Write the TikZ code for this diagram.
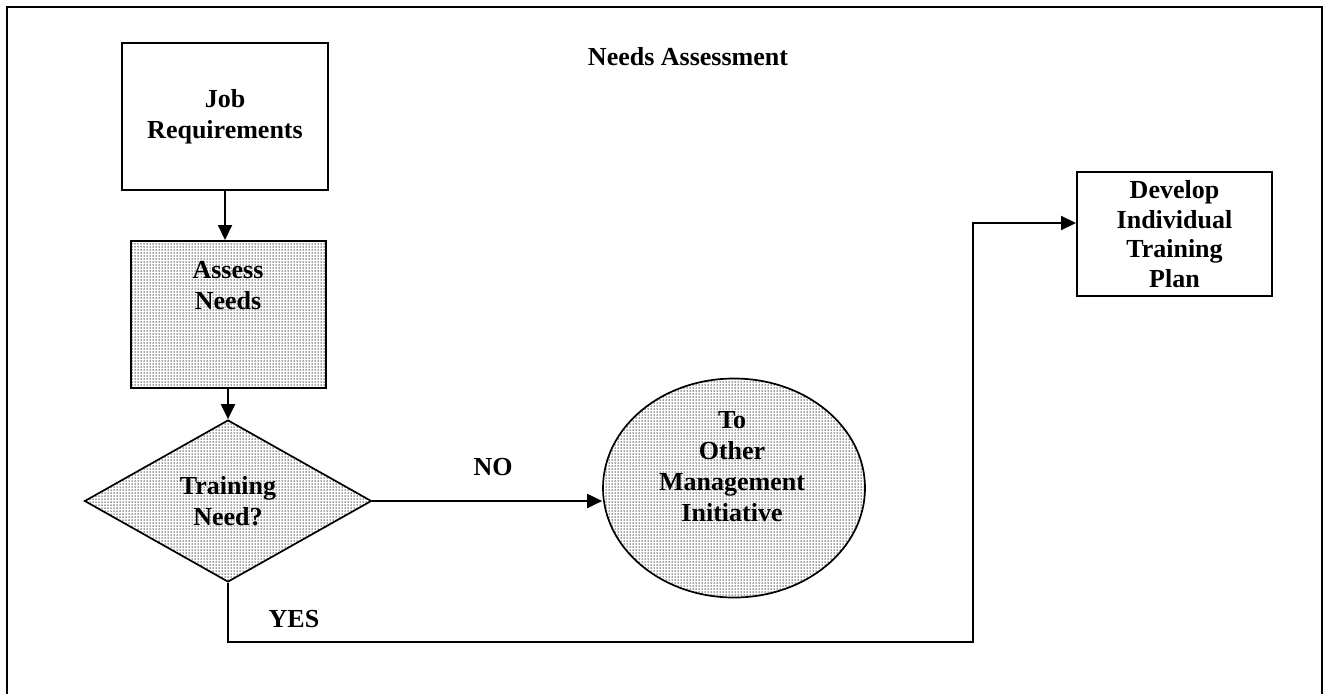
\documentclass[tikz,border=0pt]{standalone}
\usepackage{fontspec}
\setmainfont{Liberation Serif}
\usetikzlibrary{shapes.geometric,arrows.meta,patterns.meta}
\begin{document}
\begin{tikzpicture}[x=1pt,y=-1pt,
  every node/.style={font=\fontsize{26}{31}\selectfont\bfseries, align=center, inner sep=0pt},
  outline/.style={draw, line width=2pt},
  dotfill/.style={pattern={Dots[distance=3pt,radius=0.75pt]}, pattern color=black!75},
  flow/.style={line width=2pt, line join=miter, -{Triangle[length=15pt,width=14pt]}},
  ]
\useasboundingbox (0,0) rectangle (1324,694);
% page frame (open at the bottom)
\draw[line width=2pt] (7,694) -- (7,7) -- (1322,7) -- (1322,694);

% title
\node (title) at (688,57) {Needs Assessment};

% process steps
\node[outline, rectangle, minimum width=206pt, minimum height=147pt] (job) at (225,116.5) {Job\\Requirements};
\node[outline, dotfill, rectangle, minimum width=195pt, minimum height=147pt] (assess) at (228,314.5) {};
\node (assesstxt) at (228,286) {Assess\\Needs};
\node[outline, line width=1.7pt, dotfill, diamond, minimum width=287pt, minimum height=162pt] (need) at (228,501) {Training\\Need?};
\node[outline, line width=1.7pt, dotfill, ellipse, minimum width=262pt, minimum height=219pt] (other) at (734,488) {};
\node (othertxt) at (732,467) {To\\Other\\Management\\Initiative};
\node[outline, rectangle, minimum width=195pt, minimum height=124pt,
      font=\fontsize{26}{29.5}\selectfont\bfseries] (plan) at (1174.5,234) {Develop\\Individual\\Training\\Plan};

% connectors
\coordinate (yes1) at (228,642);
\coordinate (yes2) at (973,642);
\coordinate (yes3) at (973,223);
\draw[flow] (job.south) -- (job.south |- assess.north);
\draw[flow] (assess.south) -- (need.north);
\draw[flow] (need.east) -- (need.east -| other.west);
\draw[flow] (need.south) -- (yes1) -- (yes2) -- (yes3) -- (yes3 -| plan.west);

% branch labels
\node (no) at (493,467) {NO};
\node (yes) at (294,619) {YES};
\end{tikzpicture}
\end{document}
